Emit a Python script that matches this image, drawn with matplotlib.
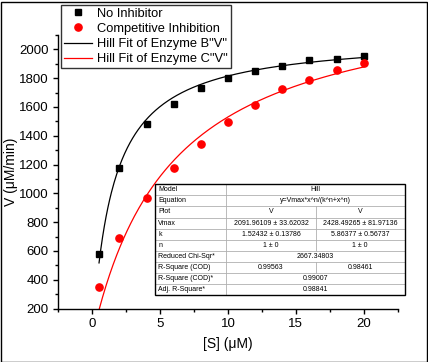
import numpy as np
import matplotlib
matplotlib.use("Agg")
import matplotlib.pyplot as plt
from matplotlib.patches import Rectangle
from matplotlib.lines import Line2D

plt.rcParams['font.family'] = ['Liberation Sans', 'DejaVu Sans']

# data
s_conc = [0.5, 2, 4, 6, 8, 10, 12, 14, 16, 18, 20]
v_no_inhib = [580, 1179, 1481, 1621, 1735, 1804, 1853, 1887, 1929, 1933, 1952]
v_comp_inhib = [352, 692, 971, 1177, 1343, 1497, 1612, 1723, 1788, 1857, 1908]

# fit parameters from the table (Hill, n fixed at 1)
vmax_b, k_b = 2091.96109, 1.52432
vmax_c, k_c = 2428.49265, 5.86377
n_hill = 1

table_rows = ["Model", "Equation", "Plot", "Vmax", "k", "n",
              "Reduced Chi-Sqr*", "R-Square (COD)", "R-Square (COD)*", "Adj. R-Square*"]
# None in second column -> value spans both columns
table_vals = [
    ("Hill", None),
    ("y=Vmax*x^n/(k^n+x^n)", None),
    ("V", "V"),
    ("2091.96109 \u00b1 33.62032", "2428.49265 \u00b1 81.97136"),
    ("1.52432 \u00b1 0.13786", "5.86377 \u00b1 0.56737"),
    ("1 \u00b1 0", "1 \u00b1 0"),
    ("2667.34803", None),
    ("0.99563", "0.98461"),
    ("0.99007", None),
    ("0.98841", None),
]


def hill(x, vmax, k, n):
    return vmax * x ** n / (k ** n + x ** n)


W, H = 428, 362
fig = plt.figure(figsize=(W / 100, H / 100), dpi=100)
ax = fig.add_axes([58.3 / W, 1 - 308.5 / H, (397.7 - 58.3) / W, (308.5 - 35) / H])

xs = np.linspace(s_conc[0], s_conc[-1], 300)
ax.plot(xs, hill(xs, vmax_b, k_b, n_hill), color='black', lw=0.9, zorder=2)
ax.plot(xs, hill(xs, vmax_c, k_c, n_hill), color='red', lw=0.9, zorder=2)
ax.plot(s_conc, v_no_inhib, 's', color='black', ms=4.3, zorder=3)
ax.plot(s_conc, v_comp_inhib, 'o', color='red', ms=5.2, zorder=3)

ax.set_xlim(-2.5, 22.5)
ax.set_ylim(200, 2100)
ax.set_xticks([0, 5, 10, 15, 20])
ax.set_xticks(np.arange(-2.5, 22.6, 2.5), minor=True)
ax.set_yticks(np.arange(200, 2001, 200))
ax.set_yticks(np.arange(200, 2101, 100), minor=True)
ax.spines['top'].set_visible(False)
ax.spines['right'].set_visible(False)
for sp in ax.spines.values():
    sp.set_linewidth(1.0)
ax.tick_params(which='major', direction='out', length=3.5, width=1.0, labelsize=9.5)
ax.tick_params(which='minor', direction='out', length=2, width=1.0)
ax.set_xlabel("[S] (\u03bcM)", fontsize=10)
ax.set_ylabel("V (\u03bcM/min)", fontsize=10)
ax.xaxis.set_label_coords(0.5, -0.106)
ax.yaxis.set_label_coords(-0.119, 0.5)

# legend
handles = [
    Line2D([], [], ls='none', marker='s', color='black', ms=4.3),
    Line2D([], [], ls='none', marker='o', color='red', ms=5.2),
    Line2D([], [], color='black', lw=0.9),
    Line2D([], [], color='red', lw=0.9),
]
labels = ["No Inhibitor", "Competitive Inhibition",
          'Hill Fit of Enzyme B"V"', 'Hill Fit of Enzyme C"V"']
leg = fig.legend(handles, labels, loc='upper left',
                 bbox_to_anchor=(61 / W, 1 - 5 / H), fontsize=9.3,
                 frameon=True, fancybox=False, borderpad=0.2,
                 labelspacing=0.25, handlelength=2.2, handletextpad=0.4,
                 borderaxespad=0)
leg.get_frame().set_edgecolor('black')
leg.get_frame().set_linewidth(1.0)

# fit result table
tab = fig.add_axes([155.3 / W, 1 - 295 / H, (404.7 - 155.3) / W, (295 - 184.3) / H])
tab.set_xlim(0, 1)
tab.set_ylim(0, len(table_rows))
tab.axis('off')
tab.add_patch(Rectangle((0, 0), 1, len(table_rows), facecolor='white',
                        edgecolor='none', zorder=0))
c1, c2 = 0.285, 0.643
nrow = len(table_rows)
for i in range(1, nrow):
    tab.plot([0, 1], [i, i], color='#b0b0b0', lw=0.6)
tab.plot([c1, c1], [0, nrow], color='#b0b0b0', lw=0.6)
fs = 5
for i, (name, vals) in enumerate(zip(table_rows, table_vals)):
    y = nrow - i - 0.5
    tab.text(0.012, y, name, fontsize=fs, va='center', ha='left')
    if vals[1] is None:
        tab.text((c1 + 1) / 2, y, vals[0], fontsize=fs, va='center', ha='center')
    else:
        tab.plot([c2, c2], [nrow - i - 1, nrow - i], color='#b0b0b0', lw=0.6)
        tab.text((c1 + c2) / 2, y, vals[0], fontsize=fs, va='center', ha='center')
        tab.text((c2 + 1) / 2, y, vals[1], fontsize=fs, va='center', ha='center')
tab.add_patch(Rectangle((0, 0), 1, nrow, facecolor='none', edgecolor='black',
                        lw=1.0, zorder=5, clip_on=False))

# outer frame of the figure
fig.patches.append(Rectangle((0.5 / W, 0.5 / H), 1 - 2 / W, 1 - 2 / H,
                             transform=fig.transFigure, fill=False,
                             edgecolor='black', lw=1.0))

fig.savefig("out.png", dpi=100)
